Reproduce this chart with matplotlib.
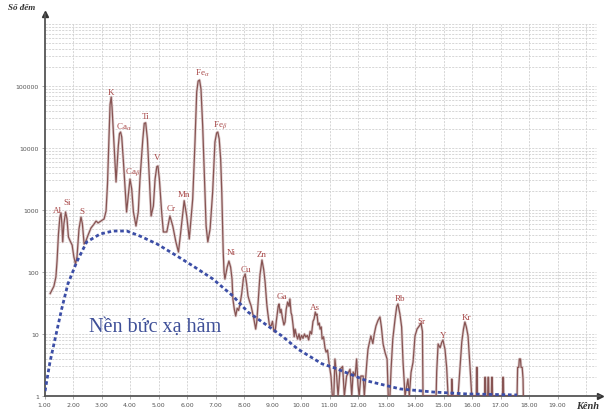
import matplotlib
matplotlib.use("Agg")
import matplotlib.pyplot as plt
from matplotlib.ticker import FixedLocator, FixedFormatter, NullLocator

plt.rcParams['mathtext.fontset'] = 'stix'

# ---- spectrum (channel, counts) ----
spec_x = [1.20, 1.33, 1.40, 1.44, 1.49, 1.54, 1.58, 1.61, 1.64, 1.68, 1.74, 1.79, 1.84, 1.90,
          1.97, 2.03, 2.09, 2.14, 2.21, 2.28, 2.33, 2.39, 2.44, 2.53, 2.63, 2.74, 2.81, 2.88,
          2.98, 3.09, 3.16, 3.21, 3.26, 3.30, 3.34, 3.37, 3.41, 3.47, 3.51, 3.59, 3.63, 3.67, 3.71, 3.77, 3.83,
          3.88, 3.94, 4.00, 4.06, 4.12, 4.21, 4.29, 4.35, 4.45, 4.50, 4.55, 4.61, 4.68, 4.74, 4.82,
          4.88, 4.94, 4.98, 5.03, 5.11, 5.17, 5.29, 5.40, 5.50, 5.61, 5.70, 5.78, 5.90, 5.99, 6.08,
          6.20, 6.28, 6.34, 6.39, 6.44, 6.49, 6.55, 6.61, 6.67, 6.73, 6.81, 6.90, 6.98, 7.04, 7.08, 7.13,
          7.18, 7.22, 7.25, 7.27, 7.30, 7.33, 7.41, 7.47, 7.53, 7.58, 7.61, 7.66, 7.71, 7.76,
          7.81, 7.86, 7.92, 7.98, 8.04, 8.09, 8.14, 8.20, 8.25, 8.30, 8.35, 8.41, 8.45, 8.50,
          8.56, 8.63, 8.69, 8.74, 8.80, 8.83, 8.89, 8.95, 9.00, 9.05, 9.09, 9.14, 9.20, 9.23,
          9.27, 9.30, 9.35, 9.40, 9.44, 9.48, 9.53, 9.58, 9.61, 9.65, 9.68, 9.72, 9.76, 9.79,
          9.84, 9.88, 9.93, 9.97, 10.02, 10.07, 10.12, 10.17, 10.22, 10.27, 10.32, 10.37, 10.42,
          10.46, 10.50, 10.53, 10.56, 10.60, 10.64, 10.67, 10.71, 10.74, 10.79, 10.84, 10.88,
          10.93, 10.98, 11.05, 11.10, 11.15, 11.19, 11.25, 11.30, 11.37, 11.46, 11.52, 11.60,
          11.72, 11.78, 11.83, 11.90, 11.95, 12.00, 12.04, 12.10, 12.18, 12.22, 12.31, 12.35,
          12.45, 12.52, 12.57, 12.63, 12.70, 12.77, 12.82, 12.88, 12.95, 13.02, 13.06, 13.12,
          13.16, 13.22, 13.30, 13.36, 13.40, 13.47, 13.53, 13.58, 13.65, 13.75, 13.80, 13.86,
          13.93, 14.00, 14.07, 14.15, 14.21, 14.26, 14.28, 14.74, 14.76, 14.81, 14.88, 14.94,
          14.98, 15.05, 15.11, 15.16, 15.28, 15.29, 15.32, 15.51, 15.58, 15.64, 15.70, 15.75,
          15.80, 15.86, 15.93, 15.99, 16.15, 16.16, 16.18, 16.19, 16.44, 16.45, 16.47, 16.48,
          16.55, 16.56, 16.58, 16.59, 16.68, 16.69, 16.71, 16.72, 17.07, 17.08, 17.10, 17.11,
          17.58, 17.60, 17.64, 17.66, 17.70, 17.72, 17.76, 17.79, 17.80]
spec_y = [45, 59, 83, 150, 410, 771, 895, 595, 305, 595, 929, 716, 367, 316,
          272, 175, 135, 175, 494, 771, 595, 283, 305, 395, 512, 595, 665, 618,
          665, 716, 964, 2625, 13960, 50000, 66500, 45000, 20250, 5945, 2830, 10770, 17000, 18100, 15030, 5945, 2183,
          929, 1683, 3160, 2183, 929, 552, 929, 3160, 13960, 25000, 25500, 13960, 3160, 800, 1161,
          3160, 5000, 5130, 3160, 929, 442, 442, 800, 552, 305, 210, 442, 1413, 800, 341,
          1503, 12500, 80000, 120000, 125000, 89500, 22650, 3535, 552, 305, 494, 1950, 12500, 17500, 18100, 13960,
          6650, 1950, 552, 210, 100, 77, 120, 150, 120, 77, 36.7, 25, 19.5, 26,
          24, 30.5, 45, 80, 93, 65, 41, 33, 28.3, 22, 17, 12, 16, 35,
          90, 156, 110, 69, 30, 22.6, 14, 13.5, 16, 11, 10.8, 17, 28, 30.5,
          22, 25, 18, 14, 15.6, 25, 32.8, 28, 36.7, 22, 20, 14, 9, 12,
          9.5, 8.3, 10, 8, 9.5, 8.5, 10, 8.9, 9.5, 8, 11, 10, 16,
          17.5, 22.6, 20, 21, 14, 15, 12, 13, 8.3, 9, 6, 5.1,
          5.5, 3.5, 2.1, 1, 1, 3.95, 2.1, 1, 2.7, 3.0, 1, 2.1,
          2.7, 1, 2.44, 2.1, 3.95, 1.5, 1, 2.1, 2.1, 1, 3.5, 5.7,
          9.3, 7, 10, 13.5, 16.5, 18.8, 13, 6.9, 5, 3.95, 1, 1,
          2.7, 8.3, 17.5, 28, 30.5, 21, 13, 3.5, 1, 1.88, 1, 2.4,
          3.5, 9.3, 12, 13.5, 15, 11, 1, 1, 2.44, 6.9, 6, 7.4,
          8, 5.7, 2.9, 1, 1, 1.88, 1, 1, 2.9, 7.4, 12, 15.6,
          13, 9.3, 2.9, 1, 1, 2.9, 2.9, 1, 1, 2.0, 2.0, 1,
          1, 2.0, 2.0, 1, 1, 2.0, 2.0, 1, 1, 2.0, 2.0, 1,
          1, 2.9, 2.9, 3.95, 3.95, 2.9, 2.9, 1.88, 1]

# ---- bremsstrahlung background (dashed blue) ----
bg_x = [1.02, 1.19, 1.37, 1.60, 1.82, 2.13, 2.48, 2.95, 3.40, 3.89, 4.35, 4.95, 5.65,
        6.21, 6.91, 7.61, 8.14, 8.74, 9.33, 9.89, 10.74, 11.12, 12.32, 13.48, 14.63,
        15.82, 17.58]
bg_y = [1.2, 3.5, 8.3, 25, 64, 145, 305, 410, 458, 458, 380, 283, 181,
        125, 77, 41, 22.6, 14.5, 9.3, 5.7, 3.3, 2.9, 1.75, 1.3, 1.16,
        1.08, 1.04]

# ---- peak labels ----
peak_names = ['Al', 'Si', 'S', 'K', r'Ca$_\alpha$', r'Ca$_\beta$', 'Ti', 'V', 'Cr', 'Mn',
              r'Fe$_\alpha$', r'Fe$_\beta$', 'Ni', 'Cu', 'Zn', 'Ga', 'As', 'Rb', 'Sr', 'Y', 'Kr']
peak_x = [1.44, 1.79, 2.32, 3.33, 3.80, 4.10, 4.53, 4.95, 5.44, 5.89, 6.52, 7.18,
          7.54, 8.07, 8.63, 9.33, 10.49, 13.47, 14.21, 14.98, 15.82]
peak_y = [1000, 1345, 964, 80000, 22600, 4260, 32800, 7160, 1077, 1812, 168000, 24400,
          210, 112, 195, 41, 27, 38, 16.2, 9.6, 18.8]

x_ticks = list(range(1, 20))
x_tick_labels = ['%d.00' % v for v in x_ticks]
y_ticks = [1, 10, 100, 1000, 10000, 100000]
y_tick_labels = ['1', '10', '100', '1000', '10000', '100000']

fig = plt.figure(figsize=(6.08, 4.14), dpi=100)
ax = fig.add_axes([44.5 / 608, 1 - 397 / 414, (600 - 44.5) / 608, (397 - 15) / 414])
ax.set_yscale('log')
ax.set_xlim(1, 20.49)
ax.set_ylim(1, 1.45e6)

grid_kw = dict(color='#d0d0d0', lw=0.6, dashes=(2.5, 1.5), zorder=0)
for k in range(2, 21):
    ax.plot([k, k], [1, 1e6], **grid_kw)
for d in range(0, 6):
    for m in range(1, 10):
        v = m * 10 ** d
        if v == 1:
            continue
        ax.plot([1, 20.35], [v, v], **grid_kw)
ax.plot([1, 20.35], [1e6, 1e6], **grid_kw)

# spectrum
ax.plot(spec_x, spec_y, color='#dfcfcf', lw=2.0, zorder=2, solid_joinstyle='round')
ax.plot(spec_x, spec_y, color='#875453', lw=0.9, zorder=3, solid_joinstyle='round')
# background
ax.plot(bg_x, bg_y, color='#3c4ea6', lw=2.0, dashes=(1.3, 1.0), zorder=4)

for name, px, py in zip(peak_names, peak_x, peak_y):
    ax.text(px, py, name, fontsize=6.5, color='#a84848', family='Liberation Serif',
            ha='center', va='center', zorder=5)

ax.text(2.55, 13.5, 'Nền bức xạ hãm', fontsize=14.5, color='#3e4f98',
        family='Liberation Serif', ha='left', va='center', zorder=6)

for s in ['top', 'right']:
    ax.spines[s].set_visible(False)
for s in ['left', 'bottom']:
    ax.spines[s].set_color('#555555')
    ax.spines[s].set_linewidth(1.3)
ax.plot(1, 0, marker='>', color='#333333', ms=4, transform=ax.transAxes, clip_on=False)
ax.plot(0, 1, marker='^', color='#333333', ms=4, transform=ax.transAxes, clip_on=False)

ax.xaxis.set_major_locator(FixedLocator(x_ticks))
ax.xaxis.set_major_formatter(FixedFormatter(x_tick_labels))
ax.yaxis.set_major_locator(FixedLocator(y_ticks))
ax.yaxis.set_major_formatter(FixedFormatter(y_tick_labels))
ax.xaxis.set_minor_locator(NullLocator())
ax.yaxis.set_minor_locator(NullLocator())
ax.tick_params(axis='both', length=2, width=0.5, color='#888888', labelsize=4.5,
               labelcolor='#555555', pad=2)

fig.text(22 / 608, 1 - 8 / 414, 'Số đếm', fontsize=6.5, family='Liberation Serif',
         fontweight='bold', fontstyle='italic', color='#333333', ha='center', va='center')
fig.text(588 / 608, 1 - 407 / 414, 'Kênh', fontsize=7.5, family='Liberation Serif',
         fontweight='bold', fontstyle='italic', color='#333333', ha='center', va='center')

fig.savefig('out.png', dpi=100, facecolor='white')
